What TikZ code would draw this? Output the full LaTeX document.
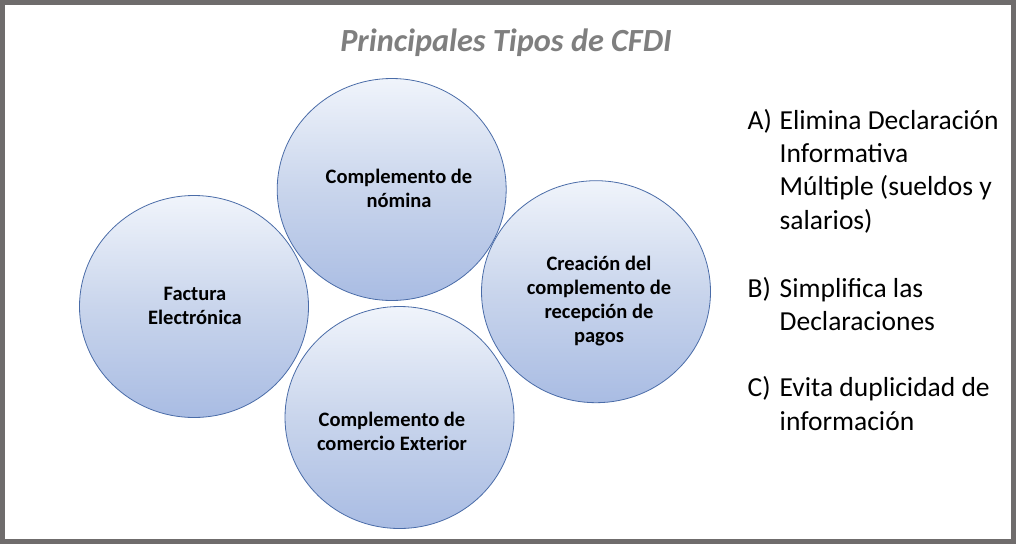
\documentclass[tikz,border=0pt]{standalone}
\usepackage{fontspec}
\setmainfont{Carlito}
\usetikzlibrary{shapes.geometric}
\definecolor{frame}{HTML}{6F6C6C}
\definecolor{titlegray}{HTML}{7F7F7F}
\definecolor{edge}{HTML}{4A6CA8}
\definecolor{topc}{HTML}{F0F4FB}
\definecolor{midc}{HTML}{C9D5EC}
\definecolor{botc}{HTML}{A9BCE3}
\tikzset{
  bubble/.style={ellipse, draw=edge, line width=0.8pt, minimum width=229pt, minimum height=222pt, inner sep=0pt,
    top color=topc, bottom color=botc, middle color=midc},
  bubtext/.style={anchor=north, align=center, font=\fontsize{20.5}{24}\selectfont\bfseries, text=black, inner sep=0pt},
  item/.style={anchor=north west, inner sep=0pt, font=\fontsize{27.5}{33.4}\selectfont, text=black, align=left},
}
\newcommand{\lab}[1]{\strut\makebox[32pt][l]{#1}}
\newcommand{\ind}{\hspace*{32pt}}
\begin{document}
\begin{tikzpicture}[x=1pt,y=-1pt]
\useasboundingbox (0,0) rectangle (1016,544);
\fill[white] (0,0) rectangle (1016,544);
\draw[frame, line width=5pt] (2.5,2.5) rectangle (1013.5,541.5);
\node[font=\fontsize{32.3}{38}\selectfont\bfseries\itshape, text=titlegray, inner sep=0pt, anchor=base] (title) at (506,51.7) {Principales Tipos de CFDI};
\node[bubble] (c1) at (194,306.5) {};
\node[bubble] (c2) at (391.7,189.5) {};
\node[bubble] (c3) at (596,291.7) {};
\node[bubble] (c4) at (399.5,417.5) {};
\node[bubtext] (t1) at (195,283.2) {\strut Factura\\Electrónica};
\node[bubtext] (t2) at (399,166.5) {\strut Complemento de\\nómina};
\node[bubtext] (t3) at (599,253.2) {\strut Creación del\\complemento de\\recepción de\\pagos};
\node[bubtext] (t4) at (392,409.9) {\strut Complemento de\\comercio Exterior};
\node[item] (ia) at (747.5,105.6) {\lab{A)}Elimina Declaración\\\ind Informativa\\\ind Múltiple (sueldos y\\\ind salarios)};
\node[item] (ib) at (747.5,273.9) {\lab{B)}Simplifica las\\\ind Declaraciones};
\node[item] (ic) at (747.5,373.3) {\lab{C)}Evita duplicidad de\\\ind información};
\end{tikzpicture}
\end{document}
